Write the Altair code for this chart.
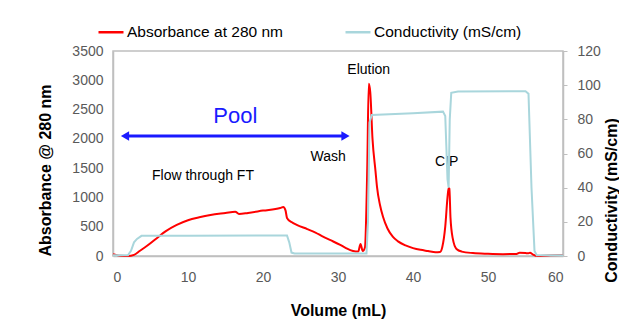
import altair as alt
import pandas as pd

# Absorbance at 280 nm (left axis)
abs_vol = [0, 0.5, 1, 2, 2.8, 3.6, 4.5, 5.8, 7, 8.5, 10, 11.5, 13, 15, 16.3, 16.8, 18, 20,
           22.3, 22.7, 23.0, 23.2, 23.8, 24.5, 25.9, 27, 28, 29, 30.3, 31, 32, 32.7, 33.0,
           33.3, 33.6, 33.9, 34.1, 34.3, 34.6, 35.0, 35.2, 35.6, 36, 36.6, 37.3, 38, 39, 40,
           41, 42, 43, 43.6, 43.9, 44.3, 44.6, 44.75, 44.85, 45.0, 45.3, 45.8, 46.5, 48, 50,
           52, 53.8, 54.2, 55.0, 55.3, 55.6, 56, 56.6, 58, 60]
abs_val = [30, 15, 5, 0, 20, 90, 170, 300, 420, 530, 610, 660, 700, 735, 757, 717, 735, 775,
           820, 836, 780, 650, 580, 530, 460, 400, 330, 270, 190, 140, 85, 75, 205,
           85, 150, 1500, 2940, 2800, 2000, 1450, 1180, 870, 670, 470, 330, 250, 180, 135,
           105, 85, 65, 70, 150, 500, 1000, 1160, 1150, 650, 300, 120, 75, 50, 38,
           32, 35, 55, 50, 45, 55, 25, 0, 10, 15]

# Conductivity (right axis)
cond_vol = [0, 2.0, 2.4, 2.8, 3.2, 3.8, 10, 20, 23.2, 23.5, 23.8, 24.2, 30, 33.8, 34.0, 34.2,
            34.5, 40, 44.0, 44.3, 44.6, 44.75, 44.9, 45.1, 46, 55, 55.4, 55.8, 56.2, 56.5, 60]
cond_val = [0.5, 0.5, 3, 8, 10, 11.8, 11.9, 12, 12, 8, 2, 1.5, 1.5, 1.5, 20, 78,
            82.5, 83.5, 84.5, 82, 45, 40, 80, 95.5, 96.3, 96.5, 95, 40, 3, 0.5, 0.5]

series = ["Absorbance at 280 nm", "Conductivity (mS/cm)"]
colors = ["#ff0000", "#a9d6dc"]

# Annotations
ann_text = ["Flow through FT", "Wash", "Elution", "CIP"]
ann_x = [12, 28.7, 34.1, 44.5]
ann_y = [1370, 1690, 3170, 1600]

pool_label = ["Pool"]
pool_x = [16.3]
pool_y = [2390]
arrow_x = [1.6, 31]
arrow_y = [2050, 2050]
arrow_shape = ["triangle-left", "triangle-right"]

FONT = "Liberation Sans"

abs_df = pd.DataFrame({"vol": abs_vol, "val": abs_val, "series": series[0]})
cond_df = pd.DataFrame({"vol": cond_vol, "val": cond_val, "series": series[1]})
ann_df = pd.DataFrame({"vol": ann_x, "val": ann_y, "label": ann_text})
pool_df = pd.DataFrame({"vol": pool_x, "val": pool_y, "label": pool_label})
arrow_df = pd.DataFrame({"vol": arrow_x, "val": arrow_y, "shape": arrow_shape})

xscale = alt.Scale(domain=[0, 60], nice=False)
yscale_l = alt.Scale(domain=[0, 3500], nice=False)
yscale_r = alt.Scale(domain=[0, 120], nice=False)
color = alt.Color(
    "series:N",
    scale=alt.Scale(domain=series, range=colors),
    legend=alt.Legend(
        title=None, orient="none", direction="horizontal", legendX=-16, legendY=-33,
        symbolType="stroke", symbolSize=625, symbolStrokeWidth=2.5,
        labelFontSize=15.5, labelFont=FONT, labelColor="#000000", columnPadding=57,
        labelOffset=2, padding=0,
    ),
)

xaxis = alt.Axis(
    values=[0, 10, 20, 30, 40, 50, 60], title="Volume (mL)", ticks=False, grid=False,
    domainColor="#bfbfbf", domainWidth=1.5, labelColor="#595959", labelFontSize=14,
    labelFont=FONT, labelPadding=14, titleFont=FONT, titleFontSize=16, titleFontWeight="bold",
    titleColor="#000000", titleY=54, titleBaseline="middle",
)
yaxis_l = alt.Axis(
    values=list(range(0, 3501, 500)), format="d", title="Absorbance @ 280 nm", ticks=False,
    grid=False, domainColor="#bfbfbf", domainWidth=1.5, labelColor="#595959", labelFontSize=14,
    labelFont=FONT, labelPadding=10, titleFont=FONT, titleFontSize=16, titleFontWeight="bold",
    titleColor="#000000", titleX=-68, titleY=119, titleAngle=270, titleBaseline="middle",
    titleAlign="center",
)
yaxis_r = alt.Axis(
    values=list(range(0, 121, 20)), title="Conductivity (mS/cm)", orient="right", ticks=True,
    tickSize=4, tickColor="#bfbfbf", grid=False, domainColor="#bfbfbf", domainWidth=1.5,
    labelColor="#595959", labelFontSize=14, labelFont=FONT, labelPadding=10,
    titleFont=FONT, titleFontSize=16, titleFontWeight="bold", titleColor="#000000",
    titleX=48, titleY=149, titleAngle=270, titleBaseline="middle", titleAlign="center",
)

X = alt.X("vol:Q", scale=xscale, axis=xaxis)
YL = alt.Y("val:Q", scale=yscale_l, axis=yaxis_l)

abs_line = alt.Chart(abs_df).mark_line(strokeWidth=2, interpolate="monotone").encode(
    x=X, y=YL, color=color, order=alt.Order("vol:Q"),
)

ann = alt.Chart(ann_df).mark_text(font=FONT, fontSize=14, color="#000000").encode(
    x=X, y=YL, text="label:N",
)

pool = alt.Chart(pool_df).mark_text(font=FONT, fontSize=22, color="#1a1aff").encode(
    x=X, y=YL, text="label:N",
)

arrow_line = alt.Chart(arrow_df).mark_line(color="#1a1aff", strokeWidth=3).encode(
    x=X, y=YL,
)

arrow_heads = alt.Chart(arrow_df).mark_point(filled=True, color="#1a1aff", size=90, opacity=1).encode(
    x=X, y=YL,
    shape=alt.Shape("shape:N", scale=alt.Scale(domain=arrow_shape, range=arrow_shape), legend=None),
)

left = alt.layer(abs_line, arrow_line, arrow_heads, ann, pool)

cond_line = alt.Chart(cond_df).mark_line(strokeWidth=2).encode(
    x=X,
    y=alt.Y("val:Q", scale=yscale_r, axis=yaxis_r),
    color=color,
    order=alt.Order("vol:Q"),
)

chart = alt.layer(left, cond_line).resolve_scale(y="independent").properties(
    width=450, height=205,
    autosize=alt.AutoSizeParams(type="none"),
    padding={"left": 105, "top": 43, "right": 56, "bottom": 66},
).configure_view(stroke="#bfbfbf", strokeWidth=1.5)

chart.save("out.html", embed_options={"renderer": "svg", "actions": False})
